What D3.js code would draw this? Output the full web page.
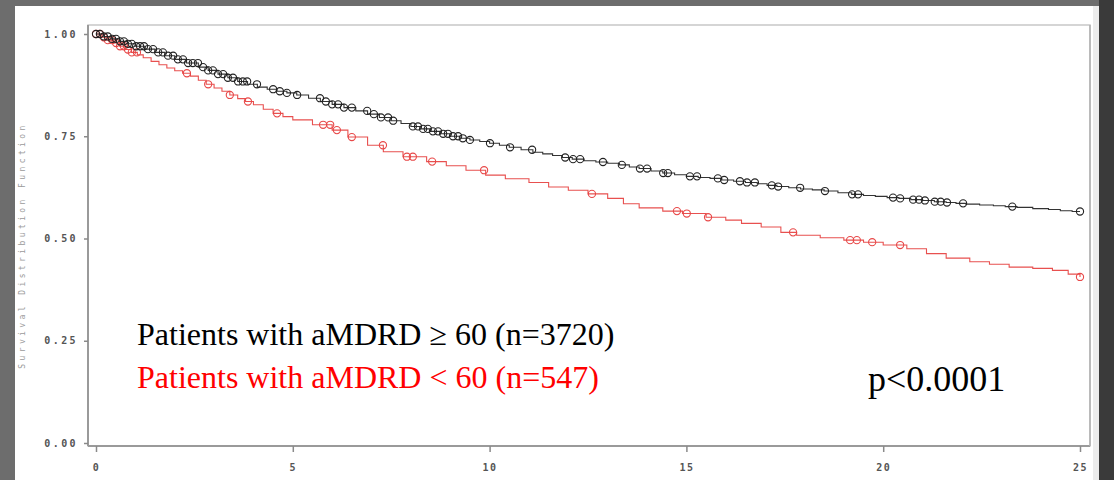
<!DOCTYPE html>
<html>
<head>
<meta charset="utf-8">
<script src="https://cdn.jsdelivr.net/npm/d3@7"></script>
<style>
  html, body { margin: 0; padding: 0; background: #6d6d6d; }
  svg { display: block; }
</style>
</head>
<body>
<svg id="chart" width="1114" height="480"></svg>
<script>
// ---------- DATA ----------
const yTicks = [0, 0.25, 0.5, 0.75, 1.0];
const xTicks = [0, 5, 10, 15, 20, 25];
const yTitle = "Survival Distribution Function";

// Kaplan-Meier steps [time, survival] — aMDRD >= 60
const highSteps = [
  [0,1.0],[0.2,0.994],[0.4,0.988],[0.6,0.982],[0.8,0.976],[1.0,0.970],[1.25,0.963],[1.5,0.955],
  [1.75,0.947],[2.0,0.938],[2.3,0.929],[2.6,0.919],[2.85,0.911],[3.1,0.902],[3.35,0.893],
  [3.6,0.884],[3.85,0.877],[4.1,0.870],[4.35,0.865],[4.6,0.860],[4.85,0.856],[5.1,0.851],
  [5.4,0.843],[5.7,0.835],[6.0,0.828],[6.3,0.820],[6.6,0.812],[6.9,0.804],[7.2,0.796],
  [7.5,0.788],[7.75,0.781],[8.0,0.774],[8.25,0.768],[8.5,0.762],[8.75,0.756],[9.0,0.750],
  [9.25,0.745],[9.5,0.741],[9.75,0.737],[10.0,0.733],[10.25,0.728],[10.5,0.723],[10.8,0.717],
  [11.1,0.711],[11.35,0.707],[11.6,0.703],[11.85,0.698],[12.1,0.694],[12.4,0.690],[12.7,0.687],
  [13.0,0.684],[13.3,0.680],[13.55,0.675],[13.8,0.671],[14.1,0.665],[14.4,0.660],[14.7,0.656],
  [15.0,0.652],[15.3,0.649],[15.6,0.647],[15.9,0.643],[16.2,0.640],[16.5,0.637],[16.8,0.634],
  [17.05,0.630],[17.3,0.627],[17.6,0.624],[17.9,0.621],[18.2,0.619],[18.5,0.616],[18.85,0.612],
  [19.2,0.608],[19.5,0.605],[19.8,0.603],[20.1,0.600],[20.4,0.598],[20.7,0.595],[21.0,0.593],
  [21.3,0.590],[21.6,0.588],[21.85,0.586],[22.1,0.584],[22.45,0.582],[22.8,0.580],[23.1,0.578],
  [23.4,0.576],[23.8,0.573],[24.2,0.571],[24.5,0.568],[24.8,0.566],[25.0,0.566]
];
// censored times — aMDRD >= 60
const highCensor = [
  0.00,0.10,0.20,0.30,0.41,0.51,0.61,0.71,0.81,0.91,1.02,1.12,1.22,1.32,1.45,1.58,1.70,1.83,
  1.96,2.08,2.21,2.34,2.46,2.59,2.72,2.85,2.97,3.10,3.23,3.35,3.48,3.61,3.73,3.84,4.09,4.50,
  4.67,4.85,5.11,5.69,5.84,6.00,6.15,6.30,6.50,6.89,7.06,7.24,7.42,7.55,8.05,8.18,8.31,8.43,
  8.56,8.69,8.82,8.94,9.07,9.20,9.32,9.50,10.01,10.52,11.08,11.92,12.12,12.30,12.88,13.36,
  13.82,14.00,14.41,14.53,15.09,15.27,15.80,15.96,16.36,16.54,16.74,17.17,17.33,17.89,18.52,
  19.21,19.36,20.25,20.43,20.76,20.91,21.06,21.31,21.46,21.62,22.03,23.28,25.00
];

// Kaplan-Meier steps [time, survival] — aMDRD < 60
const lowSteps = [
  [0,1.0],[0.15,0.992],[0.3,0.985],[0.45,0.978],[0.6,0.970],[0.75,0.962],[0.9,0.955],[1.05,0.949],
  [1.2,0.942],[1.4,0.933],[1.6,0.925],[1.8,0.917],[2.0,0.910],[2.2,0.904],[2.4,0.897],[2.6,0.887],
  [2.8,0.877],[3.0,0.868],[3.2,0.860],[3.4,0.851],[3.6,0.842],[3.8,0.835],[4.0,0.827],[4.25,0.816],
  [4.5,0.806],[4.75,0.798],[5.0,0.790],[5.5,0.778],
  [6.0,0.765],[6.4,0.748],[6.9,0.728],[7.3,0.712],[7.8,0.700],[8.4,0.688],[8.9,0.678],
  [9.4,0.667],[9.9,0.655],[10.4,0.646],[11.0,0.637],[11.5,0.626],[12.0,0.618],[12.5,0.609],
  [13.0,0.598],[13.4,0.585],[13.8,0.575],[14.4,0.567],[14.9,0.561],[15.5,0.552],[16.0,0.545],
  [16.4,0.537],[16.9,0.528],[17.4,0.515],[17.8,0.508],[18.4,0.502],[19.0,0.496],[19.5,0.491],
  [20.0,0.484],[20.6,0.475],[21.1,0.463],[21.6,0.452],[22.2,0.443],[22.7,0.437],[23.2,0.430],
  [23.8,0.427],[24.3,0.422],[24.7,0.413],[25.0,0.406]
];
// censored times — aMDRD < 60
const lowCensor = [
  0.00,0.10,0.20,0.30,0.41,0.51,0.61,0.71,0.81,0.91,1.04,2.31,2.85,3.40,3.86,4.60,5.77,5.95,
  6.12,6.50,7.29,7.90,8.05,8.54,9.86,12.60,14.76,15.01,15.55,17.71,19.16,19.33,19.72,20.43,25.00
];

const legendHigh = "Patients with aMDRD \u2265 60 (n=3720)";
const legendLow = "Patients with aMDRD < 60 (n=547)";
const pText = "p<0.0001";

// ---------- DRAW ----------
const svg = d3.select("#chart");

// frame backgrounds
svg.append("rect").attr("x", 0).attr("y", 0).attr("width", 1114).attr("height", 480).attr("fill", "#6d6d6d");
svg.append("rect").attr("x", 1099).attr("y", 0).attr("width", 15).attr("height", 480).attr("fill", "#3a3a3a");
svg.append("rect").attr("x", 15).attr("y", 6).attr("width", 1084).attr("height", 474).attr("fill", "#ffffff");
svg.append("rect").attr("x", 1093).attr("y", 6).attr("width", 6).attr("height", 474).attr("fill", "#ececec");

const x = d3.scaleLinear().domain([0, 25]).range([96, 1080]);
const y = d3.scaleLinear().domain([0, 1]).range([443, 34]);

const plotL = 88, plotR = 1090, plotT = 25, plotB = 446;

// plot box
svg.append("rect")
  .attr("x", plotL).attr("y", plotT)
  .attr("width", plotR - plotL).attr("height", plotB - plotT)
  .attr("fill", "none").attr("stroke", "#c8c8c8").attr("stroke-width", 1.5);
svg.append("line").attr("x1", plotL).attr("x2", plotL).attr("y1", plotT).attr("y2", plotB)
  .attr("stroke", "#9a9a9a").attr("stroke-width", 2);
svg.append("line").attr("x1", plotL).attr("x2", plotR).attr("y1", plotB).attr("y2", plotB)
  .attr("stroke", "#9a9a9a").attr("stroke-width", 2);
svg.append("line").attr("x1", plotR).attr("x2", plotR).attr("y1", plotT).attr("y2", plotB)
  .attr("stroke", "#b0b0b0").attr("stroke-width", 1.5);

const tickFont = "'DejaVu Sans Mono', monospace";

// y axis
const yAxis = svg.append("g")
  .attr("transform", `translate(${plotL},0)`)
  .call(d3.axisLeft(y).tickValues(yTicks).tickFormat(d3.format(".2f")).tickSize(4).tickPadding(6));
yAxis.select(".domain").remove();
yAxis.selectAll(".tick line").attr("stroke", "#8a8a8a").attr("stroke-width", 1.5);
yAxis.selectAll(".tick text")
  .attr("fill", "#555").style("font-family", tickFont).style("font-size", "10px")
  .style("font-weight", "bold").style("letter-spacing", "2.4px");

// x axis
const xAxis = svg.append("g")
  .attr("transform", `translate(0,${plotB})`)
  .call(d3.axisBottom(x).tickValues(xTicks).tickFormat(d3.format("d")).tickSize(6).tickPadding(12));
xAxis.select(".domain").remove();
xAxis.selectAll(".tick line").attr("stroke", "#8a8a8a").attr("stroke-width", 1.5);
xAxis.selectAll(".tick text")
  .attr("fill", "#555").style("font-family", tickFont).style("font-size", "10px")
  .style("font-weight", "bold").style("letter-spacing", "1.5px");

// y title
svg.append("text")
  .attr("transform", `translate(25,${(plotT + plotB) / 2 + 10}) rotate(-90)`)
  .attr("text-anchor", "middle")
  .attr("fill", "#9a9a9a")
  .style("font-family", tickFont).style("font-size", "8px").style("letter-spacing", "3.4px")
  .text(yTitle);

// curves
const line = d3.line().x(d => x(d[0])).y(d => y(d[1])).curve(d3.curveStepAfter);
const bis = d3.bisector(d => d[0]).right;
const survAt = (steps, t) => steps[Math.max(0, bis(steps, t) - 1)][1];

function drawSeries(steps, censor, color, circleColor) {
  svg.append("path").datum(steps)
    .attr("d", line).attr("fill", "none")
    .attr("stroke", color).attr("stroke-width", 1.1);
  svg.append("g").selectAll("circle").data(censor).join("circle")
    .attr("cx", d => x(d)).attr("cy", d => y(survAt(steps, d)))
    .attr("r", 3.6).attr("fill", "none")
    .attr("stroke", circleColor).attr("stroke-width", 1.1);
}
drawSeries(lowSteps, lowCensor, "#e8504f", "#e84848");
drawSeries(highSteps, highCensor, "#333333", "#222222");

// legend texts
const serif = "'Liberation Serif', 'Times New Roman', serif";
svg.append("text").attr("x", 137).attr("y", 345)
  .attr("fill", "#000").style("font-family", serif).style("font-size", "32px").text(legendHigh);
svg.append("text").attr("x", 137).attr("y", 388)
  .attr("fill", "#ff0000").style("font-family", serif).style("font-size", "32px").text(legendLow);
svg.append("text").attr("x", 868).attr("y", 391)
  .attr("fill", "#000").style("font-family", serif).style("font-size", "36px").text(pText);
</script>
</body>
</html>
